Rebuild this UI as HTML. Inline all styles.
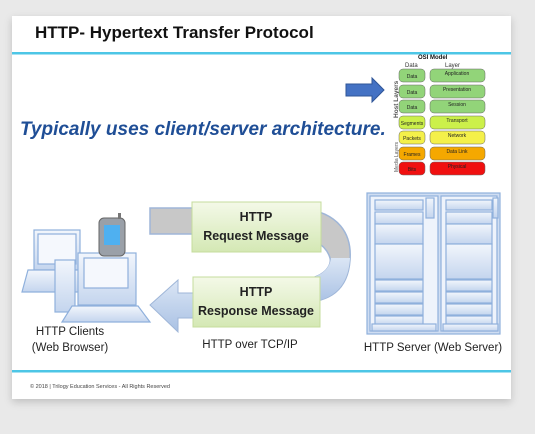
<!DOCTYPE html>
<html><head><style>
body{margin:0;width:535px;height:434px;background:#e9e9e9;font-family:"Liberation Sans",sans-serif;overflow:hidden}
.slide{position:absolute;left:12px;top:16px;width:499px;height:383px;background:#fff;box-shadow:0 3px 8px rgba(0,0,0,.18)}
</style></head><body>
<div class="slide"></div>
<svg width="535" height="434" style="position:absolute;left:0;top:0" font-family="Liberation Sans, sans-serif">
<defs>
<linearGradient id="gb" x1="0" y1="0" x2="0" y2="1"><stop offset="0" stop-color="#f2f6fc"/><stop offset="1" stop-color="#c4d5ee"/></linearGradient>
<linearGradient id="gg" x1="0" y1="0" x2="0" y2="1"><stop offset="0" stop-color="#f4f9e8"/><stop offset="1" stop-color="#d4e8b4"/></linearGradient>
<linearGradient id="ar" x1="0" y1="0" x2="0" y2="1"><stop offset="0" stop-color="#dbe6f5"/><stop offset="1" stop-color="#a9c1e4"/></linearGradient>
</defs>
<text x="35" y="38" font-size="17" font-weight="bold" fill="#111">HTTP- Hypertext Transfer Protocol</text>
<rect x="12" y="52" width="499" height="2.5" fill="#4dc6e6"/>
<rect x="12" y="370" width="499" height="2.5" fill="#4dc6e6"/>
<text x="30" y="388" font-size="5.5" fill="#444">© 2018 | Trilogy Education Services - All Rights Reserved</text>
<text x="20" y="135" font-size="19" font-weight="bold" font-style="italic" fill="#1f4e96">Typically uses client/server architecture.</text>
<polygon points="346,84 372,84 372,78 384,90 372,102 372,96 346,96" fill="#4472c4" stroke="#2f5597" stroke-width="1"/>
<text x="418" y="59" font-size="6" font-weight="bold" fill="#111">OSI  Model</text>
<text x="405" y="67" font-size="6" fill="#333">Data</text><text x="445" y="67" font-size="6" fill="#333">Layer</text>
<text transform="translate(398,118) rotate(-90)" font-size="6.5" font-weight="bold" fill="#555">Host  Layers</text>
<text transform="translate(398,172) rotate(-90)" font-size="5" fill="#555">Media Layers</text>
<g font-size="5" text-anchor="middle" fill="#222">
<rect x="399" y="69" width="26" height="13" rx="4" fill="#92d479" stroke="#666" stroke-width=".5"/><text x="412" y="78">Data</text>
<rect x="430" y="69" width="55" height="13" rx="4" fill="#92d479" stroke="#666" stroke-width=".5"/><text x="457" y="75">Application</text>
<rect x="399" y="85" width="26" height="13" rx="4" fill="#92d479" stroke="#666" stroke-width=".5"/><text x="412" y="94">Data</text>
<rect x="430" y="85" width="55" height="13" rx="4" fill="#92d479" stroke="#666" stroke-width=".5"/><text x="457" y="91">Presentation</text>
<rect x="399" y="100" width="26" height="13" rx="4" fill="#92d479" stroke="#666" stroke-width=".5"/><text x="412" y="109">Data</text>
<rect x="430" y="100" width="55" height="13" rx="4" fill="#92d479" stroke="#666" stroke-width=".5"/><text x="457" y="106">Session</text>
<rect x="399" y="116" width="26" height="13" rx="4" fill="#ccf04a" stroke="#666" stroke-width=".5"/><text x="412" y="125">Segments</text>
<rect x="430" y="116" width="55" height="13" rx="4" fill="#ccf04a" stroke="#666" stroke-width=".5"/><text x="457" y="122">Transport</text>
<rect x="399" y="131" width="26" height="13" rx="4" fill="#f4f04a" stroke="#666" stroke-width=".5"/><text x="412" y="140">Packets</text>
<rect x="430" y="131" width="55" height="13" rx="4" fill="#f4f04a" stroke="#666" stroke-width=".5"/><text x="457" y="137">Network</text>
<rect x="399" y="147" width="26" height="13" rx="4" fill="#f5a800" stroke="#666" stroke-width=".5"/><text x="412" y="156">Frames</text>
<rect x="430" y="147" width="55" height="13" rx="4" fill="#f5a800" stroke="#666" stroke-width=".5"/><text x="457" y="153">Data Link</text>
<rect x="399" y="162" width="26" height="13" rx="4" fill="#f01010" stroke="#666" stroke-width=".5"/><text x="412" y="171">Bits</text>
<rect x="430" y="162" width="55" height="13" rx="4" fill="#f01010" stroke="#666" stroke-width=".5"/><text x="457" y="168">Physical</text>
</g>
<!-- band -->
<path d="M150,208 L300,208 C340,212 352,235 350,260 C348,290 330,302 300,303 L300,280 C325,278 332,265 330,258 C326,244 310,236 290,234 L150,234 Z" fill="#c8c8c8" stroke="#9fb6d8" stroke-width="1.5"/>
<path d="M350,258 C348,290 330,302 300,303 L300,280 C322,278 330,268 331,258 Z" fill="url(#ar)"/>
<polygon points="150,305 178,280 178,293 220,293 220,318 178,318 178,332" fill="url(#ar)" stroke="#9fb6d8"/>
<rect x="192" y="202" width="129" height="50" fill="url(#gg)" stroke="#c5dc9c"/>
<rect x="193" y="277" width="127" height="50" fill="url(#gg)" stroke="#c5dc9c"/>
<g font-size="12.5" font-weight="bold" fill="#222" text-anchor="middle">
<text x="256" y="221">HTTP</text><text x="256" y="240">Request Message</text>
<text x="256" y="296">HTTP</text><text x="256" y="315">Response Message</text>
</g>
<g font-size="11.5" fill="#222" text-anchor="middle">
<text x="70" y="335">HTTP Clients</text><text x="70" y="351">(Web Browser)</text>
<text x="250" y="348">HTTP over TCP/IP</text>
<text x="433" y="351">HTTP Server (Web Server)</text>
</g>
<g stroke="#8fb0dc" stroke-width="1.2" fill="url(#gb)">
<rect x="34" y="230" width="46" height="40"/>
<rect x="38" y="234" width="38" height="30" fill="#f5f8fd"/>
<polygon points="28,270 85,270 90,292 22,292"/>
<rect x="78" y="253" width="58" height="52"/>
<rect x="84" y="258" width="44" height="30" fill="#f5f8fd"/>
<rect x="55" y="260" width="20" height="52"/>
<polygon points="72,306 138,306 150,322 62,322"/>
</g>
<rect x="99" y="218" width="26" height="38" rx="5" fill="#9aa0a8" stroke="#666"/>
<rect x="104" y="225" width="16" height="20" fill="#4fb0f0"/>
<rect x="118" y="213" width="3" height="6" fill="#777"/>
<g stroke="#8fb0dc" stroke-width="1.2">
<rect x="367" y="193" width="133" height="141" fill="#cfddf2"/>
<rect x="370" y="196" width="68" height="135" fill="#eef3fb"/>
<rect x="441" y="196" width="56" height="135" fill="#eef3fb"/>
<g fill="url(#gb)">
<rect x="375" y="200" width="48" height="10"/><rect x="375" y="212" width="48" height="12"/><rect x="375" y="224" width="48" height="20"/><rect x="375" y="244" width="48" height="35"/><rect x="375" y="280" width="48" height="11"/><rect x="375" y="292" width="48" height="11"/><rect x="375" y="304" width="48" height="11"/><rect x="375" y="316" width="48" height="9"/>
<rect x="426" y="198" width="8" height="20"/><rect x="372" y="324" width="64" height="7"/>
<rect x="446" y="200" width="46" height="10"/><rect x="446" y="212" width="46" height="12"/><rect x="446" y="224" width="46" height="20"/><rect x="446" y="244" width="46" height="35"/><rect x="446" y="280" width="46" height="11"/><rect x="446" y="292" width="46" height="11"/><rect x="446" y="304" width="46" height="11"/><rect x="446" y="316" width="46" height="9"/>
<rect x="493" y="198" width="5" height="20"/><rect x="443" y="324" width="55" height="7"/>
</g></g>
</svg>
</body></html>
